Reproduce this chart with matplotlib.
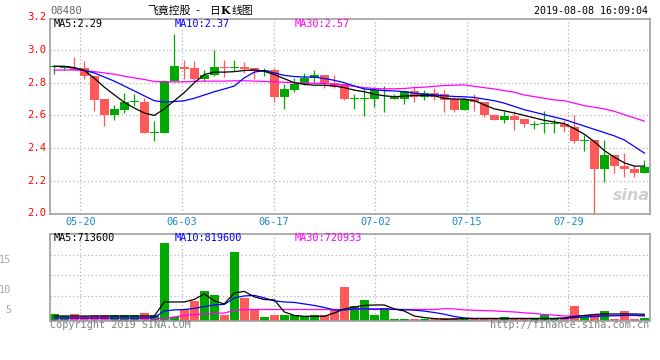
import numpy as np
import matplotlib.pyplot as plt
from matplotlib.transforms import blended_transform_factory

# ============================================================
# DATA — daily K chart of 08480
# ============================================================
tick_labels = ['05-20', '06-03', '06-17', '07-02', '07-15', '07-29']
tick_idx = [3, 13, 22, 32, 41, 51]

opens = [2.895, 2.89, 2.89, 2.89, 2.84, 2.70, 2.605, 2.635, 2.68, 2.685,
         2.495, 2.495, 2.81, 2.895, 2.89, 2.825, 2.845, 2.895, 2.89, 2.895,
         2.89, 2.87, 2.88, 2.715, 2.755, 2.795, 2.83, 2.845, 2.80, 2.79,
         2.70, 2.70, 2.70, 2.75, 2.70, 2.70, 2.75, 2.715, 2.735, 2.73,
         2.70, 2.635, 2.70, 2.68, 2.605, 2.575, 2.595, 2.58, 2.54, 2.545,
         2.545, 2.55, 2.53, 2.445, 2.45, 2.275, 2.355, 2.29, 2.275, 2.25]
highs = [2.91, 2.905, 2.955, 2.93, 2.845, 2.70, 2.665, 2.735, 2.73, 2.705,
         2.565, 2.815, 3.10, 2.94, 2.93, 2.875, 3.00, 2.94, 2.94, 2.925,
         2.89, 2.89, 2.89, 2.79, 2.83, 2.86, 2.875, 2.845, 2.85, 2.795,
         2.73, 2.77, 2.775, 2.78, 2.73, 2.755, 2.78, 2.755, 2.765, 2.755,
         2.715, 2.705, 2.73, 2.68, 2.61, 2.625, 2.63, 2.58, 2.565, 2.625,
         2.58, 2.575, 2.60, 2.48, 2.45, 2.45, 2.355, 2.37, 2.295, 2.33]
lows = [2.855, 2.88, 2.875, 2.825, 2.625, 2.535, 2.57, 2.615, 2.66, 2.495,
        2.445, 2.495, 2.81, 2.825, 2.81, 2.81, 2.84, 2.835, 2.87, 2.86,
        2.82, 2.84, 2.68, 2.64, 2.745, 2.785, 2.805, 2.765, 2.765, 2.695,
        2.64, 2.595, 2.65, 2.62, 2.70, 2.67, 2.685, 2.695, 2.695, 2.62,
        2.62, 2.635, 2.625, 2.59, 2.57, 2.555, 2.51, 2.53, 2.515, 2.49,
        2.49, 2.50, 2.43, 2.385, 2.00, 2.19, 2.245, 2.225, 2.225, 2.25]
closes = [2.90, 2.895, 2.875, 2.84, 2.695, 2.605, 2.64, 2.685, 2.685, 2.495,
          2.50, 2.81, 2.90, 2.885, 2.825, 2.85, 2.895, 2.89, 2.895, 2.885,
          2.87, 2.875, 2.715, 2.76, 2.795, 2.83, 2.845, 2.80, 2.775, 2.70,
          2.705, 2.705, 2.755, 2.755, 2.715, 2.75, 2.715, 2.735, 2.715, 2.695,
          2.635, 2.70, 2.68, 2.605, 2.575, 2.595, 2.575, 2.545, 2.545, 2.55,
          2.55, 2.53, 2.445, 2.45, 2.275, 2.355, 2.29, 2.27, 2.25, 2.285]

ma5 = [2.90, 2.90, 2.893, 2.875, 2.828, 2.773, 2.726, 2.68, 2.645, 2.615,
       2.60, 2.64, 2.69, 2.74, 2.80, 2.85, 2.865, 2.865, 2.868, 2.875,
       2.878, 2.87, 2.85, 2.825, 2.80, 2.79, 2.785, 2.785, 2.78, 2.77,
       2.755, 2.745, 2.73, 2.72, 2.715, 2.718, 2.722, 2.722, 2.72, 2.705,
       2.70, 2.70, 2.69, 2.665, 2.64, 2.628, 2.615, 2.60, 2.585, 2.57,
       2.56, 2.55, 2.52, 2.485, 2.44, 2.385, 2.345, 2.31, 2.29, 2.29]
ma10 = [2.90, 2.90, 2.89, 2.875, 2.86, 2.835, 2.81, 2.78, 2.75, 2.72,
        2.69, 2.682, 2.685, 2.69, 2.705, 2.725, 2.745, 2.762, 2.78, 2.83,
        2.865, 2.875, 2.86, 2.845, 2.838, 2.835, 2.835, 2.826, 2.815, 2.80,
        2.78, 2.762, 2.757, 2.752, 2.75, 2.745, 2.736, 2.73, 2.726, 2.72,
        2.716, 2.714, 2.71, 2.70, 2.69, 2.675, 2.655, 2.635, 2.62, 2.605,
        2.59, 2.575, 2.555, 2.535, 2.515, 2.495, 2.475, 2.45, 2.41, 2.37]
ma30 = [2.877, 2.878, 2.878, 2.875, 2.868, 2.86, 2.852, 2.84, 2.83, 2.82,
        2.808, 2.805, 2.805, 2.806, 2.808, 2.81, 2.81, 2.81, 2.812, 2.812,
        2.81, 2.808, 2.806, 2.803, 2.80, 2.798, 2.797, 2.796, 2.79, 2.785,
        2.778, 2.77, 2.765, 2.763, 2.763, 2.765, 2.77, 2.773, 2.778, 2.783,
        2.785, 2.787, 2.778, 2.77, 2.762, 2.752, 2.742, 2.725, 2.715, 2.705,
        2.695, 2.69, 2.675, 2.66, 2.65, 2.64, 2.625, 2.605, 2.585, 2.565]

# volume in 万股 (10k shares)
volume = [79, 50, 71, 53, 61, 61, 61, 61, 61, 85,
          61, 831, 43, 132, 213, 320, 274, 61, 735, 245,
          121, 43, 61, 61, 61, 50, 61, 61, 125, 362,
          157, 220, 61, 143, 26, 26, 26, 26, 26, 36,
          36, 36, 36, 36, 36, 43, 36, 36, 36, 61,
          36, 36, 157, 43, 79, 103, 26, 103, 26, 32]
vol_ma5 = [53, 53, 53, 53, 53, 53, 53, 53, 53, 53,
           53, 202, 202, 202, 229, 288, 213, 181, 298, 314,
           256, 228, 224, 96, 59, 50, 50, 50, 85, 128,
           149, 165, 170, 170, 128, 106, 53, 36, 26, 19,
           21, 26, 26, 26, 26, 26, 26, 26, 26, 26,
           26, 32, 48, 59, 69, 75, 75, 75, 75, 71]
vol_ma10 = [32, 32, 32, 32, 32, 32, 32, 32, 32, 32,
            36, 107, 117, 122, 133, 154, 170, 176, 245, 266,
            272, 245, 213, 202, 197, 181, 165, 144, 117, 117,
            128, 128, 128, 128, 125, 120, 115, 105, 90, 72,
            48, 32, 27, 27, 27, 27, 27, 27, 27, 27,
            27, 27, 37, 43, 48, 53, 56, 59, 61, 53]
vol_ma30 = [27, 27, 27, 27, 27, 27, 27, 27, 27, 27,
            27, 27, 43, 59, 69, 75, 80, 85, 112, 122,
            122, 122, 122, 122, 122, 122, 122, 122, 122, 122,
            122, 122, 122, 122, 122, 122, 122, 122, 122, 131,
            128, 117, 114, 110, 107, 101, 96, 87, 80, 69,
            62, 53, 55, 56, 57, 58, 58, 58, 58, 58]

# ============================================================
# STYLE
# ============================================================
RED = '#ff5a5a'
GREEN = '#00a800'
GRID = '#b4b4b4'
FRAME = '#a0a0a0'
MONO = 'DejaVu Sans Mono'
CJK = ['Noto Sans CJK SC', 'DejaVu Sans']
W, H = 660, 360

fig = plt.figure(figsize=(W / 100, H / 100), dpi=100)
fig.patch.set_facecolor('white')

ax = fig.add_axes([50 / W, 1 - 213.5 / H, 600 / W, 194.5 / H])
axv = fig.add_axes([50 / W, 1 - 321 / H, 600 / W, 87 / H])

x = np.arange(len(closes))
o = np.array(opens)
c = np.array(closes)
# HK colouring: green = up, red = down
colors = np.where(c >= o, GREEN, RED)

# date gridlines are spread over 59 intervals by Sina, not exactly on candles
grid_x = -0.45 + np.array(tick_idx) * 60 / 59

for a in (ax, axv):
    a.set_xlim(-0.43, 59.57)
    a.set_xticks([])
    a.set_yticks([])
    for s in a.spines.values():
        s.set_color(FRAME)
        s.set_linewidth(1.2)
    for gx in grid_x:
        a.axvline(gx, color=GRID, lw=0.9, ls=(0, (1, 2)), zorder=0)

# --- price panel ---
ax.set_ylim(2.0, 3.19)
for gy in [2.2, 2.4, 2.6, 2.8, 3.0]:
    ax.axhline(gy, color=GRID, lw=0.9, ls=(0, (1, 2)), zorder=0)

ax.text(1.0, 0.055, 'sina', transform=ax.transAxes, ha='right', va='bottom',
        color='#cfcfcf', fontsize=11.5, style='italic', weight='bold', zorder=1)

ax.vlines(x, lows, highs, colors=colors, lw=0.9, zorder=2)
body = np.maximum(np.abs(c - o), 0.006)
ax.bar(x, body, bottom=np.minimum(o, c), width=0.87, color=colors,
       lw=0, zorder=3)

ax.plot(x, ma30, color='#ff00ff', lw=0.9, zorder=4)
ax.plot(x, ma10, color='#0000ff', lw=0.9, zorder=4)
ax.plot(x, ma5, color='black', lw=0.9, zorder=5)

ytrans = blended_transform_factory(ax.transAxes, ax.transData)
for v in [2.0, 2.2, 2.4, 2.6, 2.8, 3.0, 3.2]:
    ax.text(-0.006, v, f'{v:.1f}', transform=ytrans, ha='right', va='center',
            color='red', fontsize=7.6, family=MONO)

fig.text(54 / W, 1 - 24 / H, 'MA5:2.29', color='black', fontsize=7.4,
         family=MONO, va='center')
fig.text(175 / W, 1 - 24 / H, 'MA10:2.37', color='#0000ff', fontsize=7.4,
         family=MONO, va='center')
fig.text(295 / W, 1 - 24 / H, 'MA30:2.57', color='#ff00ff', fontsize=7.4,
         family=MONO, va='center')

xtrans = blended_transform_factory(ax.transData, fig.transFigure)
for gx, lab in zip(grid_x, tick_labels):
    ax.text(gx, 1 - 221.7 / H, lab, transform=xtrans, ha='center', va='center',
            color='#1c86d1', fontsize=7.4, family=MONO)

# --- volume panel ---
axv.set_ylim(0, 923)
for gy in [266, 483, 700]:
    axv.axhline(gy, color=GRID, lw=0.9, ls=(0, (1, 2)), zorder=0)

axv.bar(x, volume, width=0.9, color=colors, lw=0, zorder=2)
axv.plot(x, vol_ma30, color='#ff00ff', lw=0.9, zorder=3)
axv.plot(x, vol_ma10, color='#0000ff', lw=0.9, zorder=3)
axv.plot(x, vol_ma5, color='black', lw=0.9, zorder=4)

fig.text(54 / W, 1 - 238.3 / H, 'MA5:713600', color='black', fontsize=7.4,
         family=MONO, va='center')
fig.text(175 / W, 1 - 238.3 / H, 'MA10:819600', color='#0000ff', fontsize=7.4,
         family=MONO, va='center')
fig.text(295 / W, 1 - 238.3 / H, 'MA30:720933', color='#ff00ff', fontsize=7.4,
         family=MONO, va='center')

for lab, yy in [('15', 260), ('10', 290), ('5', 310)]:
    fig.text(11 / W, 1 - yy / H, lab, color='#a8a8a8', fontsize=7.4,
             family=MONO, ha='right', va='center')

# --- header / footer ---
fig.text(50 / W, 1 - 11.5 / H, '08480', color='#666666', fontsize=7.6,
         family=MONO, va='center')
fig.text(147 / W, 1 - 11 / H, '飞竟控股', color='black', fontsize=7.8,
         family=CJK, ha='left', va='center')
fig.text(197 / W, 1 - 11 / H, '-', color='black', fontsize=7.8,
         family=CJK, ha='center', va='center')
fig.text(209 / W, 1 - 11 / H, '日', color='black', fontsize=7.8,
         family=CJK, ha='left', va='center')
fig.text(221 / W, 1 - 11 / H, 'K', color='black', fontsize=7.8,
         family='DejaVu Serif', weight='bold', ha='left', va='center')
fig.text(231 / W, 1 - 11 / H, '线图', color='black', fontsize=7.8,
         family=CJK, ha='left', va='center')
fig.text(648 / W, 1 - 11.5 / H, '2019-08-08 16:09:04', color='black',
         fontsize=7.2, family=MONO, ha='right', va='center')
fig.text(50 / W, 1 - 325 / H, 'Copyright 2019 SINA.COM', color='#808080',
         fontsize=7.3, family=MONO, va='center')
fig.text(649 / W, 1 - 325 / H, 'http://finance.sina.com.cn', color='#808080',
         fontsize=7.3, family=MONO, ha='right', va='center')

plt.savefig('out.png', dpi=100)
